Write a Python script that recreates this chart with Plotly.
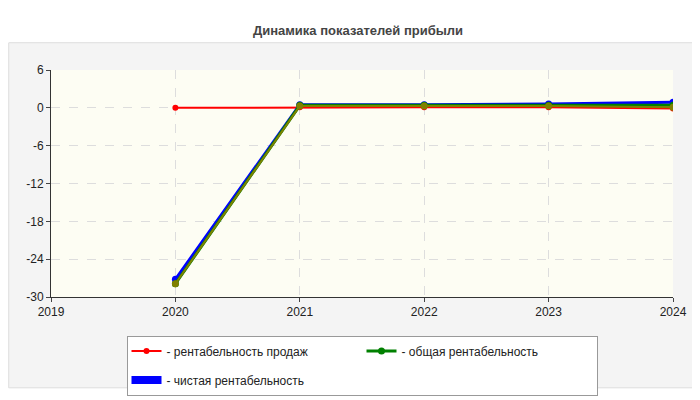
import plotly.graph_objects as go

years = [2020, 2021, 2022, 2023, 2024]
sales_margin = [0.0, 0.1, 0.1, 0.1, -0.1]
total_margin = [-27.9, 0.4, 0.4, 0.4, 0.4]
net_margin = [-27.2, 0.5, 0.5, 0.6, 0.9]
aux_margin = [-27.9, 0.3, 0.3, 0.3, 0.1]
y_ticks = [-30, -24, -18, -12, -6, 0, 6]

fig = go.Figure()
fig.add_trace(go.Scatter(x=years, y=sales_margin, name="- рентабельность продаж",
                         line=dict(color="red", width=2), marker=dict(size=6, color="red")))
fig.add_trace(go.Scatter(x=years, y=net_margin, showlegend=False,
                         line=dict(color="blue", width=3), marker=dict(size=7, color="blue")))
fig.add_trace(go.Scatter(x=years, y=total_margin, name="- общая рентабельность",
                         line=dict(color="green", width=3), marker=dict(size=7, color="green")))
fig.add_trace(go.Scatter(x=years, y=aux_margin, showlegend=False, hoverinfo="skip",
                         line=dict(color="olive", width=2), marker=dict(size=7, color="olive")))
# legend-only entry for blue so the order matches
fig.add_trace(go.Scatter(x=[None], y=[None], name="- чистая рентабельность", mode="lines",
                         line=dict(color="blue", width=8)))
fig.update_traces(selector=dict(name="- рентабельность продаж"), legendgroup="a")

fig.update_layout(
    width=700, height=400,
    title=dict(text="<b>Динамика показателей прибыли</b>", x=0.5, y=0.955,
               font=dict(family="Liberation Sans", size=13, color="#444")),
    font=dict(family="Liberation Sans", size=12, color="#222"),
    paper_bgcolor="white", plot_bgcolor="rgba(0,0,0,0)",
    margin=dict(l=43, r=35, t=62, b=90),
    showlegend=True,
    legend=dict(orientation="h", x=0.5, xanchor="center", y=-0.17, yanchor="top",
                bordercolor="#999", borderwidth=1, bgcolor="white",
                font=dict(size=12), entrywidth=190, itemwidth=30),
    shapes=[dict(type="rect", xref="paper", yref="paper", x0=-0.068, x1=1.052, y0=-0.40, y1=1.12,
                 fillcolor="#f4f4f4", line=dict(color="#ddd", width=1), layer="below"),
            dict(type="rect", xref="paper", yref="paper", x0=0, x1=1, y0=0, y1=1,
                 fillcolor="#fdfdf3", line=dict(width=0), layer="below")],
)
fig.update_xaxes(range=[2019, 2024], dtick=1, showgrid=True, gridcolor="#ddd", griddash="dash",
                 showline=True, linecolor="#333", ticks="outside", ticklen=4, zeroline=False,
                 automargin=False)
fig.update_yaxes(range=[-30, 6], tickvals=y_ticks, ticktext=[str(v) for v in y_ticks],
                 showgrid=True, gridcolor="#ddd", griddash="dash",
                 showline=True, linecolor="#333", ticks="outside", ticklen=4, zeroline=False,
                 automargin=False)

fig.write_html("out.html")
